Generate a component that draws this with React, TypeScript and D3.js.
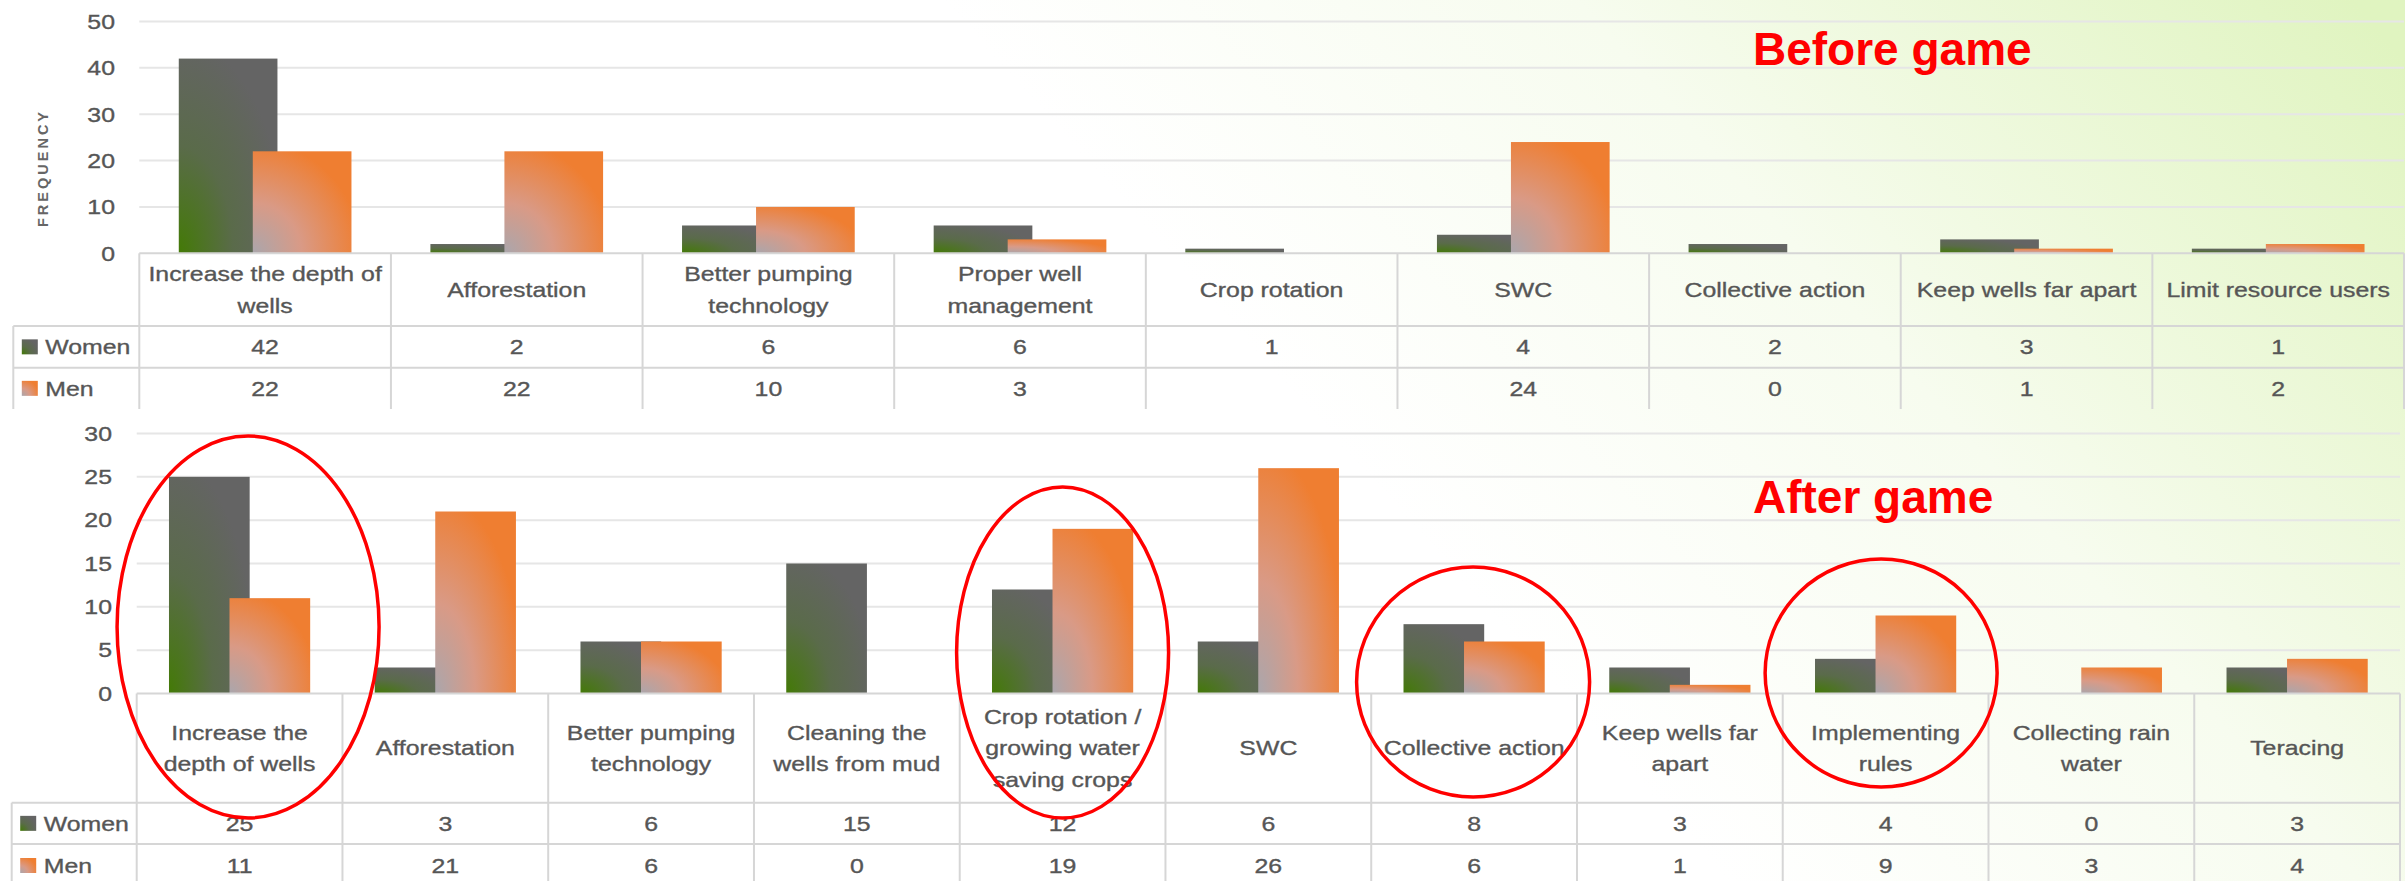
import React from 'react';
import * as d3 from 'd3';

// ---------- data ----------
const beforeCategories = [
  'Increase the depth of wells',
  'Afforestation',
  'Better pumping technology',
  'Proper well management',
  'Crop rotation',
  'SWC',
  'Collective action',
  'Keep wells far apart',
  'Limit resource users',
];
const beforeWomen: (number | null)[] = [42, 2, 6, 6, 1, 4, 2, 3, 1];
const beforeMen: (number | null)[] = [22, 22, 10, 3, null, 24, 0, 1, 2];
const beforeTicks = [0, 10, 20, 30, 40, 50];

const afterCategories = [
  'Increase the depth of wells',
  'Afforestation',
  'Better pumping technology',
  'Cleaning the wells from mud',
  'Crop rotation / growing water saving crops',
  'SWC',
  'Collective action',
  'Keep wells far apart',
  'Implementing rules',
  'Collecting rain water',
  'Teracing',
];
const afterWomen: (number | null)[] = [25, 3, 6, 15, 12, 6, 8, 3, 4, 0, 3];
const afterMen: (number | null)[] = [11, 21, 6, 0, 19, 26, 6, 1, 9, 3, 4];
const afterTicks = [0, 5, 10, 15, 20, 25, 30];

const seriesNames = ['Women', 'Men'];
const titles = ['Before game', 'After game'];
const yAxisTitle = 'FREQUENCY';

// highlighted categories in the "after" chart (annotation ellipses)
const highlights = [
  { cat: 'Increase the depth of wells', dx: 8.5, dy: -66.5, rx: 131, ry: 191 },
  { cat: 'Crop rotation / growing water saving crops', dx: 0, dy: -41, rx: 106, ry: 165.5 },
  { cat: 'Collective action', dx: -1, dy: -11.5, rx: 116.5, ry: 115 },
  { cat: 'Implementing rules', dx: -4.5, dy: -20.5, rx: 116, ry: 114 },
];

// ---------- style ----------
const W = 2405;
const H = 881;
const FS = 20.7;
const SX = 1.2;
const FONT = '"Liberation Sans", Arial, sans-serif';
const TXT = '#565656';
const GRID = '#e6e6e6';
const LINE = '#d6d6d6';
const GAP = 0.8;
const LH = 31.5;

let ctx: CanvasRenderingContext2D | null = null;
function measure(t: string): number {
  if (!ctx) {
    const c = document.createElement('canvas');
    ctx = c.getContext('2d');
  }
  if (!ctx) return t.length * FS * 0.5 * SX;
  ctx.font = `${FS}px "Liberation Sans"`;
  return ctx.measureText(t).width * SX;
}
function wrap(label: string, maxW: number): string[] {
  const words = label.split(' ');
  const lines: string[] = [];
  let cur = '';
  for (const w of words) {
    const t = cur ? cur + ' ' + w : w;
    if (cur && measure(t) > maxW) {
      lines.push(cur);
      cur = w;
    } else cur = t;
  }
  if (cur) lines.push(cur);
  return lines;
}

type Cfg = {
  left: number;
  right: number;
  y0: number;
  yTop: number;
  max: number;
  headerBottom: number;
  womenBottom: number;
  menBottom: number;
  legendLeft: number;
  tickRight: number;
  title: string;
  titleY: number;
};

function SText(props: { x: number; y: number; anchor?: string; children: React.ReactNode }) {
  return (
    <text
      transform={`translate(${props.x},${props.y}) scale(${SX},1)`}
      textAnchor={props.anchor || 'middle'}
      fontFamily={FONT}
      fontSize={FS}
      fill={TXT}
      stroke={TXT}
      strokeWidth={0.35}
    >
      {props.children}
    </text>
  );
}

function Panel(props: {
  cfg: Cfg;
  categories: string[];
  women: (number | null)[];
  men: (number | null)[];
  ticks: number[];
  marks?: typeof highlights;
  yLabel?: string;
}) {
  const { cfg, categories, women, men, ticks } = props;
  const x = d3.scaleBand<string>().domain(categories).range([cfg.left, cfg.right]).padding(0);
  const y = d3.scaleLinear().domain([0, cfg.max]).range([cfg.y0, cfg.yTop]);
  const band = x.bandwidth();
  const bw = band / (1.75 + GAP);
  const series = [women, men];
  const grads = ['url(#gWomen)', 'url(#gMen)'];
  const headerC = (cfg.y0 + cfg.headerBottom) / 2;
  const rowC = [(cfg.headerBottom + cfg.womenBottom) / 2, (cfg.womenBottom + cfg.menBottom) / 2];
  const bounds = categories.map((c) => x(c)!).concat([cfg.right]);

  return (
    <g>
      {ticks
        .filter((t) => t > 0)
        .map((t) => (
          <line key={'g' + t} x1={cfg.left} x2={cfg.right} y1={y(t)} y2={y(t)} stroke={GRID} strokeWidth={2} />
        ))}
      {ticks.map((t) => (
        <SText key={'t' + t} x={cfg.tickRight} y={y(t) + 7.3} anchor="end">
          {t}
        </SText>
      ))}
      {props.yLabel && (
        <text
          transform={`translate(44,168) rotate(-90)`}
          textAnchor="middle"
          fontFamily={FONT}
          fontWeight="bold"
          fontSize={14.5}
          letterSpacing={3}
          fill="#666666"
          dominantBaseline="middle"
        >
          {props.yLabel}
        </text>
      )}
      <text x={1753} y={cfg.titleY} fontFamily={FONT} fontWeight="bold" fontSize={46} fill="#ff0000">
        {cfg.title}
      </text>
      {categories.map((c, i) => {
        const cx = x(c)! + band / 2;
        return (
          <g key={'b' + i}>
            {series.map((s, k) => {
              const v = s[i];
              if (v == null || v <= 0) return null;
              const bx = cx - 0.875 * bw + k * 0.75 * bw;
              return <rect key={k} x={bx} y={y(v)} width={bw} height={cfg.y0 - y(v)} fill={grads[k]} />;
            })}
          </g>
        );
      })}
      <line x1={cfg.left} x2={cfg.right} y1={cfg.y0} y2={cfg.y0} stroke={LINE} strokeWidth={2} />
      <line x1={cfg.legendLeft} x2={cfg.right} y1={cfg.headerBottom} y2={cfg.headerBottom} stroke={LINE} strokeWidth={2} />
      <line x1={cfg.legendLeft} x2={cfg.right} y1={cfg.womenBottom} y2={cfg.womenBottom} stroke={LINE} strokeWidth={2} />
      {bounds.map((bx, i) => (
        <line key={'v' + i} x1={bx} x2={bx} y1={cfg.y0} y2={cfg.menBottom} stroke={LINE} strokeWidth={2} />
      ))}
      <line x1={cfg.legendLeft} x2={cfg.legendLeft} y1={cfg.headerBottom} y2={cfg.menBottom} stroke={LINE} strokeWidth={2} />
      {categories.map((c, i) => {
        const lines = wrap(c, band - 10);
        const cx = x(c)! + band / 2;
        return (
          <g key={'c' + i}>
            {lines.map((ln, j) => (
              <SText key={j} x={cx} y={headerC - ((lines.length - 1) * LH) / 2 + j * LH + 7.3}>
                {ln}
              </SText>
            ))}
          </g>
        );
      })}
      {seriesNames.map((name, k) => (
        <g key={'r' + k}>
          <rect x={cfg.legendLeft + 8.5} y={rowC[k] - 7.5} width={16} height={15} fill={grads[k]} />
          <SText x={cfg.legendLeft + 32} y={rowC[k] + 7.3} anchor="start">
            {name}
          </SText>
          {categories.map((c, i) => {
            const v = series[k][i];
            if (v == null) return null;
            return (
              <SText key={i} x={x(c)! + band / 2} y={rowC[k] + 7.3}>
                {v}
              </SText>
            );
          })}
        </g>
      ))}
      {(props.marks || []).map((m, i) => (
        <ellipse
          key={'e' + i}
          cx={x(m.cat)! + band / 2 + m.dx}
          cy={cfg.y0 + m.dy}
          rx={m.rx}
          ry={m.ry}
          fill="none"
          stroke="#ff0000"
          strokeWidth={3.5}
        />
      ))}
    </g>
  );
}

const topCfg: Cfg = {
  left: 139.3,
  right: 2404,
  y0: 253.3,
  yTop: 21.5,
  max: 50,
  headerBottom: 326,
  womenBottom: 367.7,
  menBottom: 409,
  legendLeft: 13.3,
  tickRight: 115,
  title: titles[0],
  titleY: 65,
};
const bottomCfg: Cfg = {
  left: 136.7,
  right: 2400,
  y0: 693.5,
  yTop: 433.5,
  max: 30,
  headerBottom: 802.7,
  womenBottom: 844,
  menBottom: 887,
  legendLeft: 11.7,
  tickRight: 112,
  title: titles[1],
  titleY: 513,
};

export default function App() {
  return (
    <svg
      width={W}
      height={H}
      viewBox={`0 0 ${W} ${H}`}
      style={{ position: 'absolute', left: 0, top: 0, display: 'block' }}
    >
      <defs>
        <linearGradient id="bg" gradientUnits="userSpaceOnUse" x1={1620} y1={760} x2={2405} y2={60}>
          <stop offset="0" stopColor="#ffffff" />
          <stop offset="0.45" stopColor="#f7fcef" />
          <stop offset="1" stopColor="#e0f4c0" />
        </linearGradient>
        <radialGradient id="gWomen" cx="0" cy="1" r="1.1" fx="0" fy="1">
          <stop offset="0" stopColor="#437a06" />
          <stop offset="0.5" stopColor="#5a6b4a" />
          <stop offset="1" stopColor="#646464" />
        </radialGradient>
        <radialGradient id="gMen" cx="0" cy="1" r="1.1" fx="0" fy="1">
          <stop offset="0" stopColor="#aaa6ac" />
          <stop offset="0.45" stopColor="#d99a86" />
          <stop offset="1" stopColor="#ef7e31" />
        </radialGradient>
      </defs>
      <rect x={0} y={0} width={W} height={H} fill="url(#bg)" />
      <Panel cfg={topCfg} categories={beforeCategories} women={beforeWomen} men={beforeMen} ticks={beforeTicks} yLabel={yAxisTitle} />
      <Panel cfg={bottomCfg} categories={afterCategories} women={afterWomen} men={afterMen} ticks={afterTicks} marks={highlights} />
    </svg>
  );
}
